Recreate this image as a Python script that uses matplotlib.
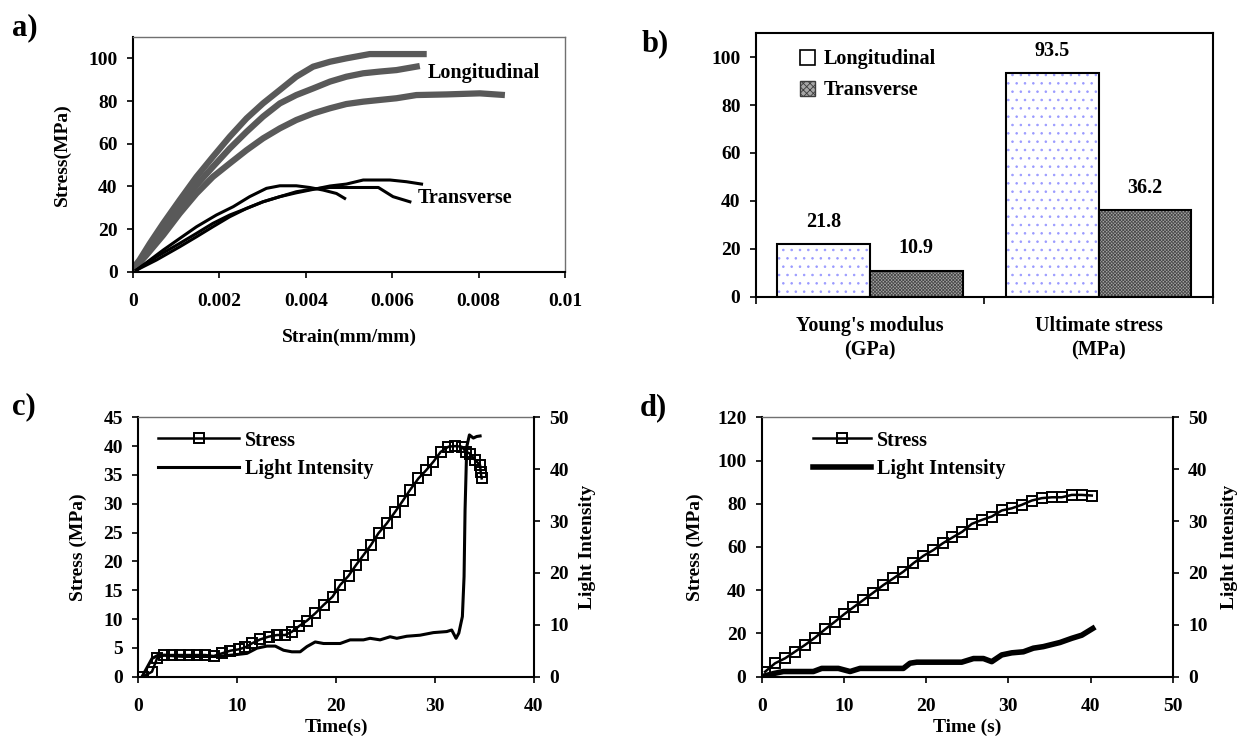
import matplotlib
matplotlib.use('Agg')
import matplotlib.pyplot as plt
from matplotlib.patches import Patch

plt.rcParams['font.family'] = ['Liberation Serif', 'DejaVu Serif']
plt.rcParams['font.weight'] = 'bold'
plt.rcParams['axes.labelweight'] = 'bold'
plt.rcParams['hatch.linewidth'] = 0.6

# ---- a) stress-strain curves ----
long1_strain = [0, 0.00015, 0.00039, 0.0007, 0.00108, 0.00147, 0.00185, 0.00224, 0.00263, 0.00301,
                0.0034, 0.00378, 0.00417, 0.00456, 0.00494, 0.00548, 0.0061, 0.0068]
long1_stress = [1.6, 5.5, 13.3, 22.7, 33.6, 44.5, 53.9, 63.3, 71.9, 78.9,
                85.2, 91.4, 96.1, 98.4, 100, 102, 102, 102]
long2_strain = [0, 0.00031, 0.0007, 0.00108, 0.00147, 0.00185, 0.00224, 0.00263, 0.00301,
                0.0034, 0.00378, 0.00417, 0.00456, 0.00494, 0.00533, 0.00571, 0.0061, 0.00664]
long2_stress = [0.8, 8.6, 19.5, 30.5, 40.6, 49.2, 57.8, 65.6, 72.7,
                78.9, 82.8, 85.9, 89.1, 91.4, 93.0, 93.8, 94.5, 96.4]
long3_strain = [0, 0.00031, 0.0007, 0.00108, 0.00147, 0.00185, 0.00224, 0.00263, 0.00301, 0.0034,
                0.00378, 0.00417, 0.00456, 0.00494, 0.00533, 0.00571, 0.0061, 0.00656, 0.00726,
                0.00803, 0.00861]
long3_stress = [0.8, 7.8, 17.2, 27.3, 36.7, 44.5, 50.8, 57.0, 62.5, 67.2,
                71.1, 74.2, 76.6, 78.6, 79.7, 80.5, 81.3, 82.8, 83.1, 83.6, 82.8]
trans1_strain = [0.00008, 0.00039, 0.0007, 0.00108, 0.00147, 0.00193, 0.00232, 0.0027, 0.00309,
                 0.0034, 0.00378, 0.00409, 0.0044, 0.00471, 0.0049]
trans1_stress = [0.8, 5.5, 10.2, 15.6, 21.1, 26.6, 30.5, 35.2, 39.1, 40.3, 40.3, 39.5, 38.3, 36.7, 34.4]
trans2_strain = [0.00008, 0.00054, 0.00108, 0.00147, 0.00185, 0.00224, 0.00263, 0.00301, 0.0034,
                 0.00378, 0.00417, 0.00456, 0.00494, 0.00568, 0.00602, 0.00641]
trans2_stress = [0.8, 7.0, 13.3, 18.0, 22.7, 26.6, 29.7, 32.8, 35.2, 37.5, 38.8, 39.5, 39.5, 39.5, 35.2, 32.8]
trans3_strain = [0.00008, 0.00054, 0.00108, 0.00147, 0.00185, 0.00224, 0.00263, 0.00301, 0.0034,
                 0.00378, 0.00417, 0.00456, 0.00494, 0.00533, 0.00595, 0.00633, 0.00668]
trans3_stress = [0.8, 5.5, 11.7, 16.4, 21.1, 25.8, 29.7, 32.8, 35.2, 37.0, 38.6, 40.2, 41.1, 43.0, 43.0, 42.2, 41.1]

# ---- b) properties ----
categories = ["Young's modulus\n(GPa)", "Ultimate stress\n(MPa)"]
longitudinal_vals = [21.8, 93.5]
transverse_vals = [10.9, 36.2]

# ---- c) transverse test ----
c_stress_t = [0.47, 1.38, 1.89, 2.63, 3.40, 4.24, 5.08, 5.93, 6.77, 7.61, 8.45, 9.29, 10.13, 10.81,
              11.48, 12.32, 13.16, 14.01, 14.85, 15.52, 16.26, 17.04, 17.88, 18.72, 19.63, 20.40,
              21.25, 22.02, 22.76, 23.50, 24.28, 25.12, 25.96, 26.73, 27.47, 28.32, 29.09, 29.83,
              30.57, 31.35, 32.02, 32.69, 33.13, 33.54, 34.04, 34.55, 34.61, 34.71]
c_stress = [0, 0.87, 3.18, 3.76, 3.76, 3.76, 3.76, 3.76, 3.76, 3.58, 4.05, 4.51, 4.74, 5.09,
            5.78, 6.47, 6.94, 7.23, 7.23, 7.80, 8.79, 9.71, 10.98, 12.43, 13.87, 15.9,
            17.5, 19.4, 21.1, 22.8, 24.9, 26.6, 28.6, 30.5, 32.4, 34.4, 35.8, 37.3,
            39.0, 39.9, 40.0, 39.9, 39.0, 38.7, 37.6, 36.7, 35.5, 34.4]
c_light_t = [0.37, 1.38, 2.05, 4.58, 7.95, 9.63, 10.98, 11.99, 13.0, 13.84, 14.68, 15.52, 16.36,
             17.04, 17.88, 18.72, 20.40, 21.41, 22.76, 23.43, 24.44, 25.45, 26.13, 27.14, 28.48,
             29.83, 31.18, 31.68, 32.12, 32.40, 32.76, 32.93, 33.03, 33.20, 33.47, 33.87, 34.21, 34.55]
c_light = [0, 3.5, 4.2, 3.9, 3.9, 4.2, 4.5, 5.5, 5.9, 5.9, 5.1, 4.8, 4.8,
           5.8, 6.7, 6.4, 6.4, 7.1, 7.1, 7.4, 7.1, 7.7, 7.4, 7.8, 8.0,
           8.5, 8.7, 9.0, 7.4, 8.4, 11.6, 19.3, 32.1, 44.3, 46.6, 46.0, 46.3, 46.4]

# ---- d) longitudinal test ----
d_stress_t = [0.41, 1.62, 2.84, 4.06, 5.27, 6.49, 7.70, 8.92, 10.06, 11.15, 12.37, 13.58, 14.80,
              16.02, 17.23, 18.45, 19.67, 20.88, 22.02, 23.20, 24.41, 25.55, 26.76, 27.98, 29.20,
              30.41, 31.63, 32.85, 34.06, 35.28, 36.50, 37.71, 38.93, 40.15]
d_stress = [2.3, 6.2, 8.5, 11.6, 14.7, 18.1, 21.9, 25.5, 29.0, 32.1, 35.5, 38.9, 42.4,
            45.5, 48.6, 52.5, 55.9, 58.6, 61.7, 64.4, 67.1, 70.7, 72.5, 74.1, 76.9,
            77.9, 79.5, 81.5, 82.6, 83.0, 83.0, 84.1, 84.1, 83.8]
d_light_t = [0, 1.42, 2.64, 6.29, 7.30, 9.33, 10.75, 11.96, 17.23, 18.04, 18.86, 24.33, 25.76,
             26.97, 27.98, 29.20, 30.41, 31.83, 33.04, 34.26, 36.29, 37.71, 38.93, 40.27]
d_light = [0, 0.6, 1.0, 1.0, 1.6, 1.6, 1.0, 1.6, 1.6, 2.6, 2.8, 2.8, 3.5,
           3.5, 2.9, 4.2, 4.6, 4.8, 5.5, 5.8, 6.6, 7.4, 8.0, 9.3]

FS = 14


def style(ax):
    ax.tick_params(direction='out', length=4, width=1.2, labelsize=FS)
    ax.tick_params(axis='x', pad=11)
    ax.tick_params(axis='y', pad=7)
    for s in ['left', 'bottom']:
        ax.spines[s].set_linewidth(1.5)
    for s in ['top', 'right']:
        ax.spines[s].set_linewidth(1.0)
        ax.spines[s].set_color('#707070')


fig = plt.figure(figsize=(12.43, 7.55), dpi=100)

# ===== a =====
ax = fig.add_axes([0.107, 0.640, 0.3475, 0.311])
for xs, ys in [(long1_strain, long1_stress), (long2_strain, long2_stress), (long3_strain, long3_stress)]:
    ax.plot(xs, ys, color='#595959', lw=4.5, solid_capstyle='butt')
for xs, ys in [(trans1_strain, trans1_stress), (trans2_strain, trans2_stress), (trans3_strain, trans3_stress)]:
    ax.plot(xs, ys, color='black', lw=2.2)
ax.set_xlim(0, 0.01)
ax.set_ylim(0, 110)
ax.set_xticks([0, 0.002, 0.004, 0.006, 0.008, 0.01])
ax.set_xticklabels(['0', '0.002', '0.004', '0.006', '0.008', '0.01'])
ax.set_yticks(range(0, 101, 20))
style(ax)
ax.text(0.00683, 93, 'Longitudinal', fontsize=14.5, va='center', ha='left')
ax.text(0.0066, 34.4, 'Transverse', fontsize=14.5, va='center', ha='left')
ax.set_xlabel('Strain(mm/mm)', fontsize=FS, va='center')
ax.set_ylabel('Stress(MPa)', fontsize=FS, va='center')
ax.xaxis.set_label_coords(0.5, -0.278)
ax.yaxis.set_label_coords(-0.164, 0.5)

# ===== b =====
ax = fig.add_axes([0.608, 0.607, 0.3677, 0.349])
x = [0, 1]
w = 0.405
xl = [i - w / 2 for i in x]
xt = [i + w / 2 for i in x]
ax.bar(xl, longitudinal_vals, w, facecolor='white', edgecolor='#9a9aff', hatch='..', lw=0)
ax.bar(xl, longitudinal_vals, w, facecolor='none', edgecolor='black', lw=1.5)
ax.bar(xt, transverse_vals, w, facecolor='#a6a6a6', edgecolor='#4a4a4a', hatch='x' * 10, lw=0)
ax.bar(xt, transverse_vals, w, facecolor='none', edgecolor='black', lw=1.5)
for xi, v in zip(xl, longitudinal_vals):
    ax.annotate(f'{v}', (xi, v), xytext=(0, 16), textcoords='offset points',
                ha='center', va='center', fontsize=14.5)
for xi, v in zip(xt, transverse_vals):
    ax.annotate(f'{v}', (xi, v), xytext=(0, 16), textcoords='offset points',
                ha='center', va='center', fontsize=14.5)
ax.set_xlim(-0.5, 1.5)
ax.set_ylim(0, 110)
ax.set_yticks(range(0, 101, 20))
ax.set_xticks(x)
ax.set_xticklabels(categories)
ax.set_xticks([-0.5, 0.5, 1.5], minor=True)
style(ax)
ax.tick_params(axis='x', which='major', length=0, pad=14, labelsize=14.5)
ax.tick_params(axis='x', which='minor', length=5, width=1.2, direction='out')
for lab in ax.get_xticklabels():
    lab.set_linespacing(1.3)
for s in ['top', 'right']:
    ax.spines[s].set_color('black')
    ax.spines[s].set_linewidth(1.5)
handles = [Patch(facecolor='white', edgecolor='black', lw=1.2),
           Patch(facecolor='#a6a6a6', edgecolor='#3c3c3c', hatch='xxxxx', lw=1.0)]
ax.legend(handles, ['Longitudinal', 'Transverse'], loc='upper left', bbox_to_anchor=(0.08, 0.97),
          frameon=False, fontsize=14.5, handlelength=0.75, handleheight=0.75,
          handletextpad=0.4, labelspacing=0.55, borderaxespad=0)


def time_panel(rect, st, s, lt, l, ylim, yticks, xmax, xlab, lw_light, lw_stress, leg_anchor,
               handlelength, ylab_x, y2lab_x):
    ax = fig.add_axes(rect)
    h1, = ax.plot(st, s, color='black', lw=lw_stress, marker='s', ms=7.5, mfc='none',
                  mec='black', mew=1.4, label='Stress')
    ax.set_xlim(0, xmax)
    ax.set_ylim(*ylim)
    ax.set_yticks(yticks)
    ax.set_xticks(range(0, xmax + 1, 10))
    style(ax)
    ax.spines['right'].set_visible(False)
    ax2 = ax.twinx()
    h2, = ax2.plot(lt, l, color='black', lw=lw_light, label='Light Intensity')
    ax2.set_ylim(0, 50)
    ax2.set_yticks(range(0, 51, 10))
    ax2.tick_params(direction='out', length=4, width=1.2, labelsize=FS, pad=7)
    for sname in ['top', 'left', 'bottom']:
        ax2.spines[sname].set_visible(False)
    ax2.spines['right'].set_linewidth(1.5)
    ax.set_xlabel(xlab, fontsize=FS, va='center')
    ax.set_ylabel('Stress (MPa)', fontsize=FS, va='center')
    ax2.set_ylabel('Light Intensity', fontsize=FS, va='center')
    ax.xaxis.set_label_coords(0.5, -0.194)
    ax.yaxis.set_label_coords(ylab_x, 0.5)
    ax2.yaxis.set_label_coords(y2lab_x, 0.5)
    ax2.legend([h1, h2], ['Stress', 'Light Intensity'], loc='upper left',
               bbox_to_anchor=leg_anchor, frameon=False, fontsize=14.5,
               handlelength=handlelength, handletextpad=0.3, labelspacing=0.4,
               borderaxespad=0)
    return ax


# ===== c =====
time_panel([0.1113, 0.1037, 0.3183, 0.3436], c_stress_t, c_stress, c_light_t, c_light,
           (0, 45), range(0, 46, 5), 40, 'Time(s)', 2.2, 1.8, (0.03, 0.98), 4.0, -0.152, 1.136)

# ===== d =====
time_panel([0.6128, 0.1037, 0.3307, 0.3436], d_stress_t, d_stress, d_light_t, d_light,
           (0, 120), range(0, 121, 20), 50, 'Time (s)', 4.0, 1.8, (0.105, 0.98), 2.9, -0.162, 1.139)

# panel letters
for lx, ly, t in [(0.010, 0.963, 'a)'), (0.516, 0.942, 'b)'), (0.010, 0.461, 'c)'), (0.515, 0.460, 'd)')]:
    fig.text(lx, ly, t, fontsize=22, fontweight='bold', va='center', ha='left')

fig.savefig('out.png', dpi=100)
